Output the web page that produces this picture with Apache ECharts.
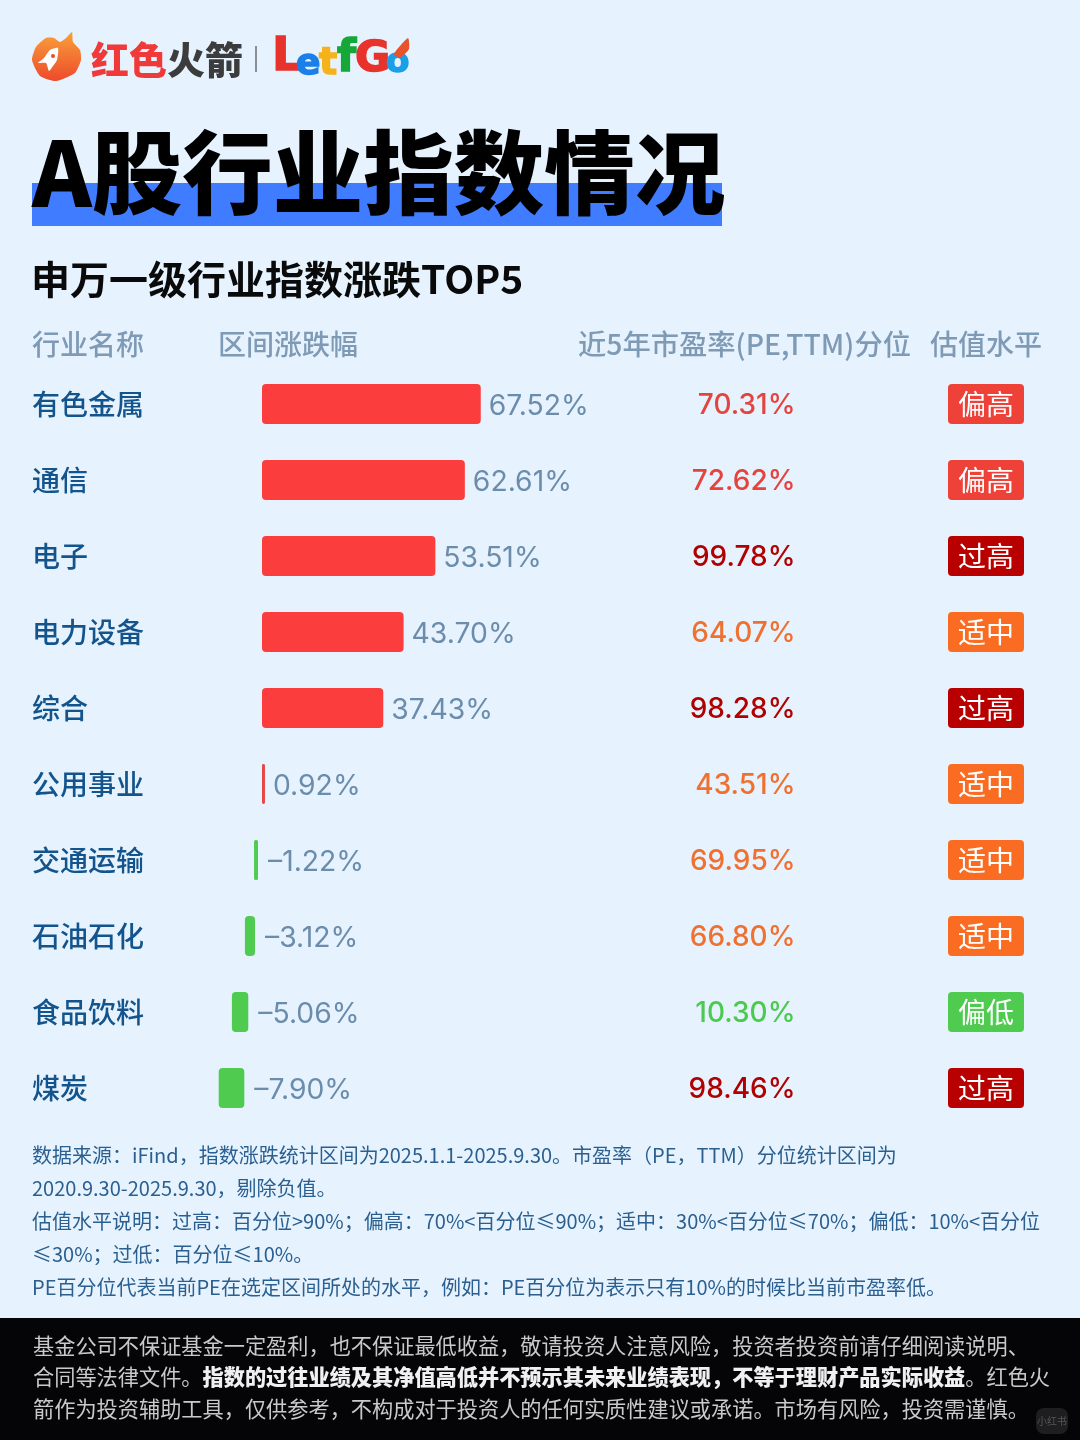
<!DOCTYPE html>
<html>
<head>
<meta charset="utf-8">
<style>html,body{margin:0;padding:0;background:#e6f3ff}#main{width:1080px;height:1440px}</style>
<script src="https://cdn.jsdelivr.net/npm/echarts@6/dist/echarts.min.js"></script>
</head>
<body>
<div id="main"></div>
<script>
var industries = ['有色金属', '通信', '电子', '电力设备', '综合', '公用事业', '交通运输', '石油石化', '食品饮料', '煤炭'];
var changes = [67.52, 62.61, 53.51, 43.70, 37.43, 0.92, -1.22, -3.12, -5.06, -7.90];
var peRanks = [70.31, 72.62, 99.78, 64.07, 98.28, 43.51, 69.95, 66.80, 10.30, 98.46];
var levels = ['偏高', '偏高', '过高', '适中', '过高', '适中', '适中', '适中', '偏低', '过高'];
var columns = ['行业名称', '区间涨跌幅', '近5年市盈率(PE,TTM)分位', '估值水平'];

var textColors = { '偏高': '#e5443e', '过高': '#b00000', '适中': '#f0702f', '偏低': '#4cc94f' };
var tagColors = { '偏高': '#ee4138', '过高': '#b80000', '适中': '#fb6c23', '偏低': '#4fcb50' };
var cjk = '"Noto Sans CJK SC"';
var latin = 'Inter';

// the picture draws negative bars detached from zero, this spacer reproduces that
var negSpacer = [0, 0, 0, 0, 0, 0, -1.23, -2.16, -4.23, -5.46];

function txt(x, y, text, font, fill, extra) {
  var style = { x: x, y: y, text: text, font: font, fill: fill, textVerticalAlign: 'middle' };
  for (var k in extra) style[k] = extra[k];
  return { type: 'text', silent: true, style: style };
}
function rect(x, y, w, h, fill, r) {
  return { type: 'rect', silent: true, shape: { x: x, y: y, width: w, height: h, r: r || 0 }, style: { fill: fill } };
}
function poly(points, fill) {
  return { type: 'polygon', silent: true, shape: { points: points, smooth: 0.2 }, style: { fill: fill } };
}
function letter(x, y, ch, size, fill) {
  return txt(x, y, ch, '900 ' + size + 'px "DejaVu Sans"', fill, { stroke: fill, lineWidth: 1.5 });
}

var noteFont = '20px ' + cjk;
var noteColor = '#2a5f8f';
var noticeFont = '21.2px ' + cjk;
var noticeColor = '#c9c9c9';
var flame = new echarts.graphic.LinearGradient(0, 0, 0, 1, [
  { offset: 0, color: '#f9a03a' },
  { offset: 1, color: '#ee4a2b' }
]);

var graphics = [
  rect(32, 183, 690, 43, '#3f7cff'),
  txt(32, 173, 'A股行业指数情况', '900 90.5px ' + cjk, '#000'),
  txt(31, 279, '申万一级行业指数涨跌TOP5', '700 39px ' + cjk, '#0a0a0a'),
  // logo
  poly([[32, 60], [36, 47], [46, 38], [54, 38], [60, 42], [66, 38], [72, 32], [73, 42], [80, 50], [81, 60], [75, 73], [56, 81], [40, 76]], flame),
  poly([[58, 48], [50, 50], [44, 58], [38, 63], [46, 63], [49, 71], [53, 66], [57, 60]], '#fff'),
  { type: 'circle', silent: true, shape: { cx: 53, cy: 56, r: 2 }, style: { fill: '#ee4a2b' } },
  txt(91, 60, '红色', '900 38px ' + cjk, '#f03a3a'),
  txt(167, 60, '火箭', '900 38px ' + cjk, '#3c3c3c'),
  rect(255, 46, 2, 26, '#8a8f96'),
  letter(272, 58, 'L', 47, '#e8322c'),
  letter(296, 65, 'e', 36, '#1a7fe8'),
  letter(319, 64, 't', 38, '#f5b21b'),
  letter(337, 60, 'f', 44, '#15a838'),
  letter(355, 60, 'G', 43, '#e8322c'),
  letter(386, 63, 'o', 34, '#1a9fe8'),
  poly([[408, 38], [409, 49], [400, 58], [394, 54]], '#e8532c'),
  // column heads
  txt(32, 344, columns[0], '500 28px ' + cjk, '#7f9ab5'),
  txt(218, 344, columns[1], '500 28px ' + cjk, '#7f9ab5'),
  txt(578, 344, columns[2], '500 28.3px ' + cjk, '#7f9ab5'),
  txt(930, 344, columns[3], '500 28px ' + cjk, '#7f9ab5'),
  // notes
  txt(32, 1155, '数据来源：iFind，指数涨跌统计区间为2025.1.1-2025.9.30。市盈率（PE，TTM）分位统计区间为', noteFont, noteColor),
  txt(32, 1188, '2020.9.30-2025.9.30，剔除负值。', noteFont, noteColor),
  txt(32, 1221, '估值水平说明：过高：百分位>90%；偏高：70%<百分位≤90%；适中：30%<百分位≤70%；偏低：10%<百分位', noteFont, noteColor),
  txt(32, 1254, '≤30%；过低：百分位≤10%。', noteFont, noteColor),
  txt(32, 1287, 'PE百分位代表当前PE在选定区间所处的水平，例如：PE百分位为表示只有10%的时候比当前市盈率低。', noteFont, noteColor),
  // disclaimer
  rect(0, 1318, 1080, 122, '#050507'),
  txt(33, 1346, '基金公司不保证基金一定盈利，也不保证最低收益，敬请投资人注意风险，投资者投资前请仔细阅读说明、', noticeFont, noticeColor),
  txt(33, 1377, '{n|合同等法律文件。}{b|指数的过往业绩及其净值高低并不预示其未来业绩表现，不等于理财产品实际收益}{n|。红色火}', noticeFont, noticeColor, {
    rich: {
      n: { font: noticeFont, fill: noticeColor },
      b: { font: '900 21.2px ' + cjk, fill: '#f0f0f0' }
    }
  }),
  txt(33, 1409, '箭作为投资辅助工具，仅供参考，不构成对于投资人的任何实质性建议或承诺。市场有风险，投资需谨慎。', noticeFont, noticeColor),
  rect(1036, 1408, 32, 26, '#1e1e20', 8),
  txt(1052, 1421, '小红书', '10px ' + cjk, '#555', { textAlign: 'center' })
];

var mycharts = echarts.init(document.getElementById('main'));
var option = {
  backgroundColor: '#e6f3ff',
  animation: false,
  graphic: graphics,
  grid: [
    { left: 197.2, width: 324, top: 366, height: 760 },
    { left: 794, width: 192, top: 366, height: 760 }
  ],
  xAxis: [
    { type: 'value', gridIndex: 0, min: -20, max: 80, show: false },
    { type: 'category', gridIndex: 1, data: ['pe', 'level'], boundaryGap: false, show: false }
  ],
  yAxis: [
    {
      type: 'category',
      gridIndex: 0,
      inverse: true,
      data: industries,
      axisLine: { show: false, onZero: false },
      axisTick: { show: false },
      axisLabel: {
        align: 'left',
        margin: 165.2,
        fontFamily: cjk,
        fontSize: 28,
        fontWeight: 500,
        color: '#14548c'
      }
    },
    { type: 'category', gridIndex: 1, inverse: true, data: industries, show: false }
  ],
  series: [
    {
      name: 'spacer',
      type: 'bar',
      stack: 'change',
      silent: true,
      barWidth: 40,
      itemStyle: { color: 'transparent' },
      data: negSpacer
    },
    {
      name: '区间涨跌幅',
      type: 'bar',
      stack: 'change',
      barWidth: 40,
      data: changes.map(function (v) {
        return {
          value: v,
          label: { offset: [v < 0 ? 2 : 0, 2] },
          itemStyle: { color: v < 0 ? '#4fcb50' : (v < 1 ? '#e64848' : '#fc3d3d'), borderRadius: Math.abs(v) < 2 ? 1.5 : 4 }
        };
      }),
      label: {
        show: true,
        position: 'right',
        distance: 8,
        fontFamily: latin,
        fontSize: 28.3,
        color: '#6b8cab',
        formatter: function (p) {
          return (p.value < 0 ? '–' : '') + Math.abs(p.value).toFixed(2) + '%';
        }
      }
    },
    {
      name: '分位',
      type: 'scatter',
      xAxisIndex: 1,
      yAxisIndex: 1,
      symbolSize: 1,
      itemStyle: { color: 'transparent', opacity: 1 },
      data: peRanks.map(function (v, i) {
        return {
          value: ['pe', i],
          label: { formatter: v.toFixed(2) + '%', color: textColors[levels[i]] }
        };
      }),
      label: { show: true, position: 'left', distance: 0, offset: [2, 2], fontFamily: latin, fontSize: 28, fontWeight: 500 }
    },
    {
      name: '估值水平',
      type: 'scatter',
      xAxisIndex: 1,
      yAxisIndex: 1,
      symbolSize: 1,
      itemStyle: { color: 'transparent', opacity: 1 },
      data: levels.map(function (v, i) {
        return {
          value: ['level', i],
          label: { formatter: v, backgroundColor: tagColors[v] }
        };
      }),
      label: {
        show: true,
        position: 'inside',
        color: '#fff',
        fontFamily: cjk,
        fontSize: 28,
        width: 76,
        height: 40,
        lineHeight: 40,
        align: 'center',
        verticalAlign: 'middle',
        borderRadius: 4
      }
    }
  ]
};
mycharts.setOption(option);
</script>
</body>
</html>
